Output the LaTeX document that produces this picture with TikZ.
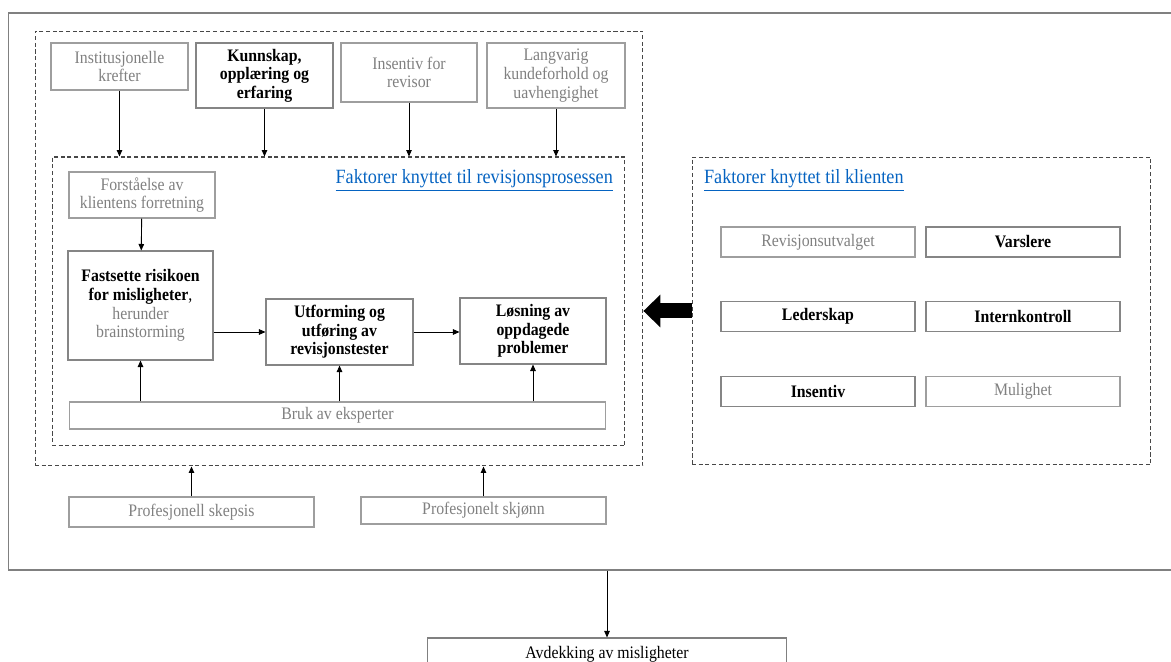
\documentclass[tikz,border=0pt]{standalone}
\usepackage{fontspec}
\setmainfont[FakeStretch=0.9]{Liberation Serif}
\usetikzlibrary{arrows.meta}
\definecolor{txtgray}{HTML}{808080}
\definecolor{linkblue}{HTML}{0563C1}

\begin{document}
\begin{tikzpicture}[x=0.02cm, y=-0.02cm,
 font=\fontsize{10}{10.6}\selectfont,
every edge/.style = {draw=black, line width=0.5pt,
      -{Triangle[length=1.3mm, width=1.1mm]}},
 gbox/.style args = {#1/#2}{%
      rectangle, draw=black!38, line width=0.6pt, text=txtgray,
      align=center, inner sep=1pt,
      minimum width=#1, minimum height=#2},
 bbox/.style args = {#1/#2}{%
      rectangle, draw=black!48, line width=0.6pt,
      font=\fontsize{10}{10.6}\selectfont\bfseries,
      align=center, inner sep=1pt,
      minimum width=#1, minimum height=#2},
 dbox/.style args = {#1/#2}{%
      rectangle, draw=black!72, line width=0.6pt,
      dash pattern=on 2.3pt off 1.5pt,
      minimum width=#1, minimum height=#2},
 title/.style = {text=linkblue, inner sep=1pt,
      font=\fontsize{11.5}{12}\selectfont},
 fat/.style = {draw=black, line width=0.3cm,
      -{Triangle[length=0.34cm, width=0.66cm, line width=0pt]}}
                    ]
\useasboundingbox (0,0) rectangle (1171,662);
% frames
\node(frame) [draw=black!50, line width=0.7pt,
      minimum width=23.64cm, minimum height=11.14cm] at (599,291.5) {};
\node(outer) [dbox=12.16cm/8.7cm] at (339,248.5) {};
\node(inner) [dbox=11.46cm/5.78cm] at (338.5,301.5) {};
\node(client) [dbox=9.18cm/6.16cm] at (921.5,311) {};
%
\node(inst) [gbox=2.74cm/0.94cm] at (119.5,66.5) {Institusjonelle\\krefter};
\node(kunn) [bbox=2.74cm/1.3cm] at (264.5,75.5) {Kunnskap,\\opplæring og\\erfaring};
\node(insrev) [gbox=2.72cm/1.18cm] at (409,72.5) {Insentiv for\\revisor};
\node(lang) [gbox=2.76cm/1.3cm] at (556,75.5) {Langvarig\\kundeforhold og\\uavhengighet};
%
\node(ttlproc) [title, anchor=east] at (615,180) {\underline{Faktorer knyttet til revisjonsprosessen}};
\node(forst) [gbox=2.92cm/0.92cm] at (142,195) {Forståelse av\\klientens forretning};
\node(fast) [bbox=2.9cm/2.18cm] at (140.5,305.5) {Fastsette risikoen\\for misligheter{\mdseries,}\\\textcolor{txtgray}{\mdseries herunder}\\\textcolor{txtgray}{\mdseries brainstorming}};
\node(utf) [bbox=2.94cm/1.32cm] at (339.5,332) {Utforming og\\utføring av\\revisjonstester};
\node(losn) [bbox=2.92cm/1.32cm] at (533,331) {Løsning av\\oppdagede\\problemer};
\node(bruk) [gbox=10.74cm/0.54cm] at (337.5,415.5) {Bruk av eksperter};
%
\node(ttlcli) [title, anchor=west] at (702,180) {\underline{Faktorer knyttet til klienten}};
\node(revu) [gbox=3.88cm/0.6cm] at (818,242) {Revisjonsutvalget};
\node(vars) [bbox=3.88cm/0.6cm] at (1023,242) {Varslere};
\node(leder) [bbox=3.88cm/0.6cm] at (818,316.5) {Lederskap};
\node(intk) [bbox=3.88cm/0.6cm] at (1023,316.5) {Internkontroll};
\node(insent) [bbox=3.88cm/0.6cm] at (818,391.5) {Insentiv};
\node(mulig) [gbox=3.88cm/0.6cm] at (1023,391.5) {Mulighet};
%
\node(skep) [gbox=4.9cm/0.6cm] at (191.5,512) {Profesjonell skepsis};
\node(skjonn) [gbox=4.9cm/0.54cm] at (483.5,510.5) {Profesjonelt skjønn};
\node(avd) [draw=black!50, line width=0.6pt, inner sep=1pt,
      minimum width=7.2cm, minimum height=0.64cm] at (607,654) {Avdekking av misligheter};
%
\path   (inst.south)  edge (inst.south |- inner.north);
\path   (kunn.south)  edge (kunn.south |- inner.north);
\path   (insrev.south)  edge (insrev.south |- inner.north);
\path   (lang.south)  edge (lang.south |- inner.north);
\path   (forst)  edge (fast);
\path   (fast.east |- utf.west)  edge (utf.west);
\path   (utf.east)  edge (losn.west |- utf.east);
\path   (bruk.north -| fast.south)  edge (fast.south);
\path   (bruk.north -| utf.south)  edge (utf.south);
\path   (bruk.north -| losn.south)  edge (losn.south);
\path   (skep.north)  edge (skep.north |- outer.south);
\path   (skjonn.north)  edge (skjonn.north |- outer.south);
\path   (frame.south -| avd.north)  edge (avd.north);
\draw[fat] (client.west) -- (client.west -| outer.east);
\end{tikzpicture}
\end{document}
